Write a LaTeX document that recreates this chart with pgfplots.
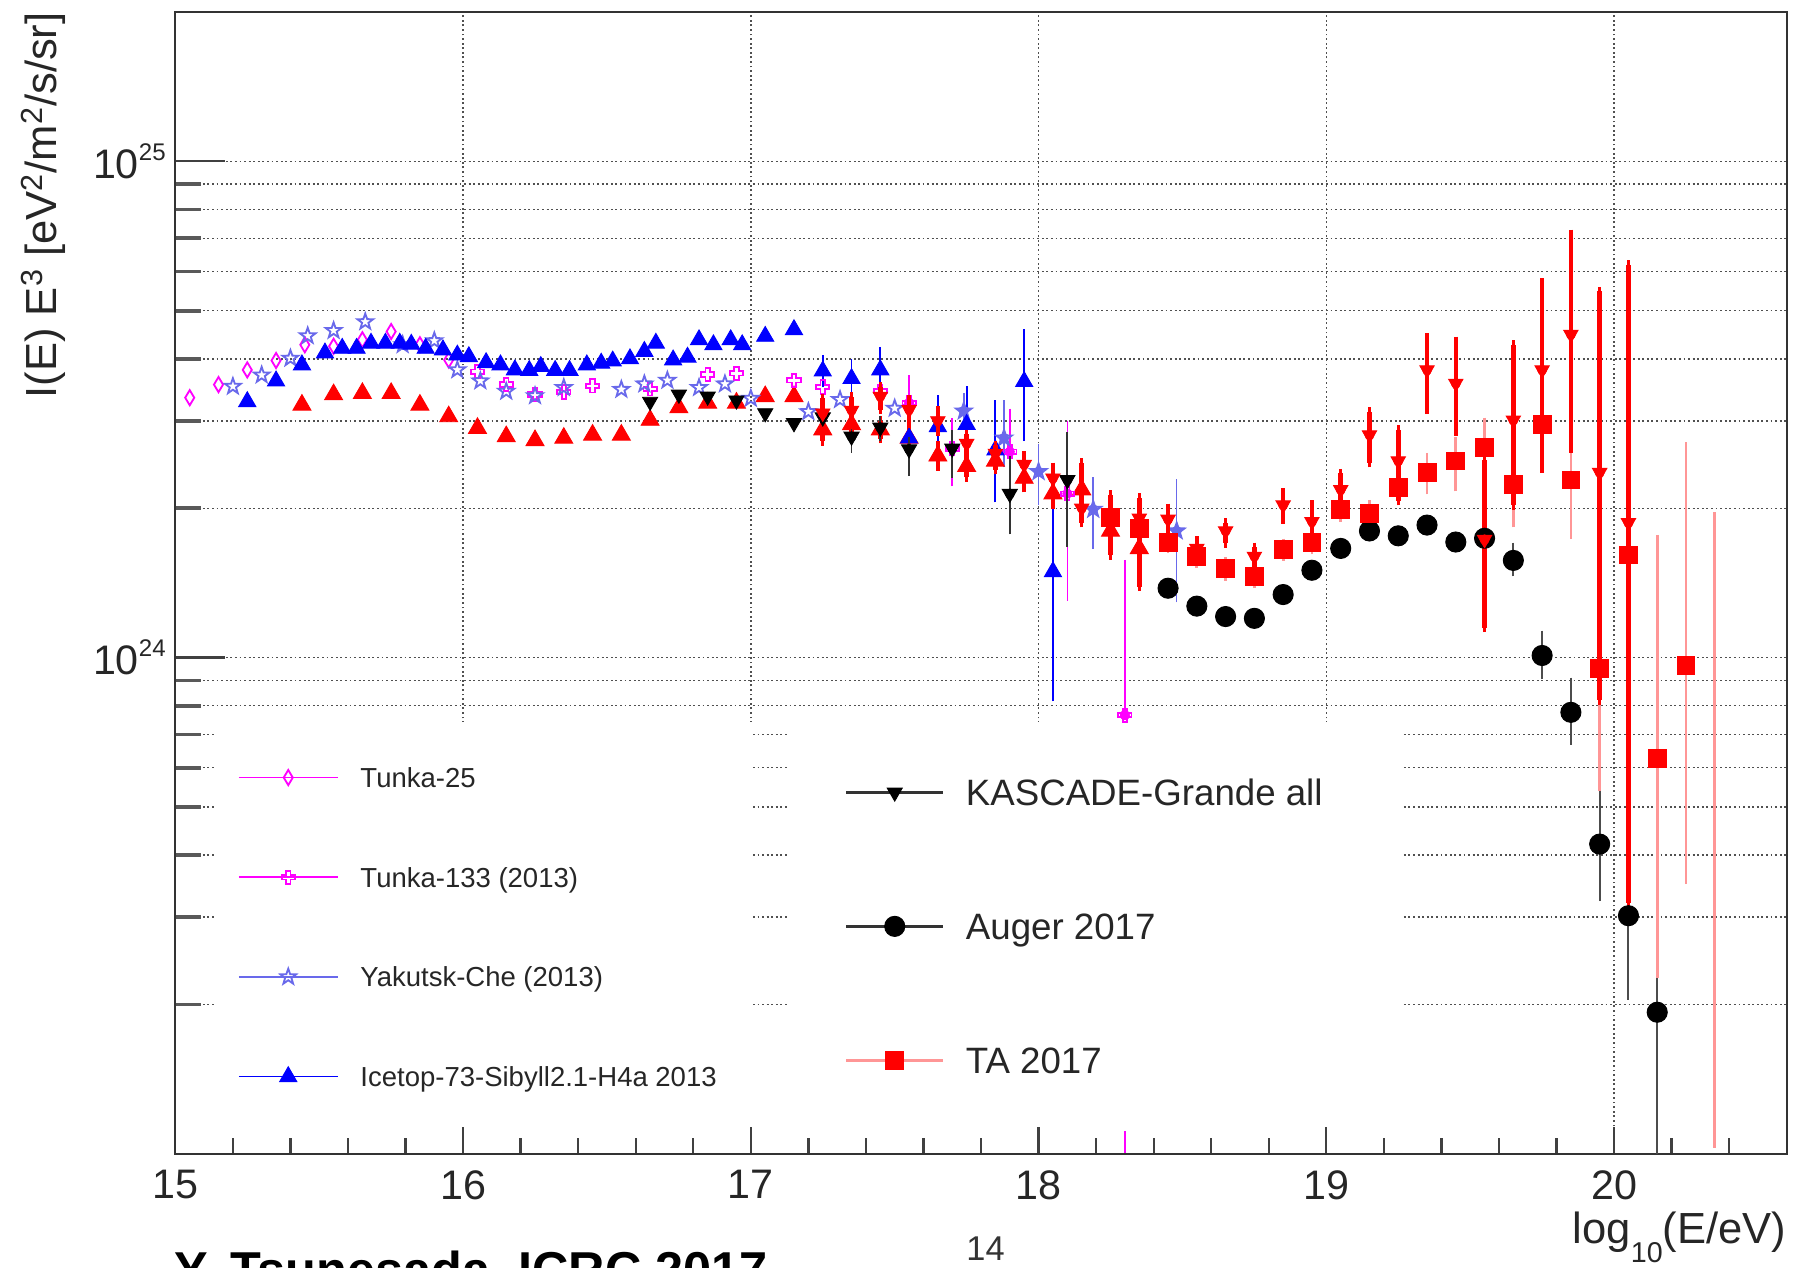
\documentclass[border=0pt]{standalone}
\usepackage{fontspec}
\setmainfont{Liberation Sans}
\usepackage{pgfplots}
\pgfplotsset{compat=1.18}
\usetikzlibrary{plotmarks}

\definecolor{tunka}{RGB}{255,0,255}
\definecolor{yak}{RGB}{105,105,235}
\definecolor{icetop}{RGB}{0,0,255}
\definecolor{tared}{RGB}{255,0,0}
\definecolor{taerr}{RGB}{255,150,150}
\definecolor{gridc}{RGB}{80,80,80}

% tall open diamond
\pgfdeclareplotmark{tdiamond}{%
  \pgfpathmoveto{\pgfqpoint{0pt}{1.5\pgfplotmarksize}}%
  \pgfpathlineto{\pgfqpoint{0.9\pgfplotmarksize}{0pt}}%
  \pgfpathlineto{\pgfqpoint{0pt}{-1.5\pgfplotmarksize}}%
  \pgfpathlineto{\pgfqpoint{-0.9\pgfplotmarksize}{0pt}}%
  \pgfpathclose\pgfusepathqstroke}
% open cross
\pgfdeclareplotmark{ocross}{%
  \pgfpathmoveto{\pgfqpoint{-0.33\pgfplotmarksize}{\pgfplotmarksize}}%
  \pgfpathlineto{\pgfqpoint{0.33\pgfplotmarksize}{\pgfplotmarksize}}%
  \pgfpathlineto{\pgfqpoint{0.33\pgfplotmarksize}{0.33\pgfplotmarksize}}%
  \pgfpathlineto{\pgfqpoint{\pgfplotmarksize}{0.33\pgfplotmarksize}}%
  \pgfpathlineto{\pgfqpoint{\pgfplotmarksize}{-0.33\pgfplotmarksize}}%
  \pgfpathlineto{\pgfqpoint{0.33\pgfplotmarksize}{-0.33\pgfplotmarksize}}%
  \pgfpathlineto{\pgfqpoint{0.33\pgfplotmarksize}{-\pgfplotmarksize}}%
  \pgfpathlineto{\pgfqpoint{-0.33\pgfplotmarksize}{-\pgfplotmarksize}}%
  \pgfpathlineto{\pgfqpoint{-0.33\pgfplotmarksize}{-0.33\pgfplotmarksize}}%
  \pgfpathlineto{\pgfqpoint{-\pgfplotmarksize}{-0.33\pgfplotmarksize}}%
  \pgfpathlineto{\pgfqpoint{-\pgfplotmarksize}{0.33\pgfplotmarksize}}%
  \pgfpathlineto{\pgfqpoint{-0.33\pgfplotmarksize}{0.33\pgfplotmarksize}}%
  \pgfpathclose\pgfusepathqstroke}
% open five-pointed star
\pgfdeclareplotmark{ostar}{%
  \pgfpathmoveto{\pgfqpoint{0pt}{\pgfplotmarksize}}%
  \pgfpathlineto{\pgfqpoint{-0.235\pgfplotmarksize}{0.324\pgfplotmarksize}}%
  \pgfpathlineto{\pgfqpoint{-0.951\pgfplotmarksize}{0.309\pgfplotmarksize}}%
  \pgfpathlineto{\pgfqpoint{-0.380\pgfplotmarksize}{-0.124\pgfplotmarksize}}%
  \pgfpathlineto{\pgfqpoint{-0.588\pgfplotmarksize}{-0.809\pgfplotmarksize}}%
  \pgfpathlineto{\pgfqpoint{0pt}{-0.4\pgfplotmarksize}}%
  \pgfpathlineto{\pgfqpoint{0.588\pgfplotmarksize}{-0.809\pgfplotmarksize}}%
  \pgfpathlineto{\pgfqpoint{0.380\pgfplotmarksize}{-0.124\pgfplotmarksize}}%
  \pgfpathlineto{\pgfqpoint{0.951\pgfplotmarksize}{0.309\pgfplotmarksize}}%
  \pgfpathlineto{\pgfqpoint{0.235\pgfplotmarksize}{0.324\pgfplotmarksize}}%
  \pgfpathclose\pgfusepathqstroke}

% legend key: a line with the plot's marker in its middle
\pgfplotsset{
  legkey/.style n args={3}{legend image code/.code={%
    \draw[#1, line width=#2] (0pt,0pt) -- (#3,0pt);
    \draw[##1] plot coordinates {({0.5*#3},0pt)};}},
}

\begin{document}
\begin{tikzpicture}
% ---------- lower-energy experiments, grid and y axis ----------
\begin{axis}[
  at={(0pt,0pt)}, anchor=south west,
  scale only axis, width=703pt, height=498.2pt,
  xmin=15, xmax=20.6, ymode=log, ymin=1e23, ymax=2e25,
  axis line style={black!80, line width=1pt},
  tick pos=left, tick align=inside,
  xtick={16,17,18,19,20}, xticklabels={}, minor xtick={},
  every major x tick/.append style={draw=none},
  ytick={1e24,1e25},
  yticklabels={10\raisebox{8pt}{\fontsize{10.5}{11}\selectfont 24},10\raisebox{8pt}{\fontsize{10.5}{11}\selectfont 25}},
  minor ytick={2e23,3e23,4e23,5e23,6e23,7e23,8e23,9e23,2e24,3e24,4e24,5e24,6e24,7e24,8e24,9e24},
  major tick length=21.5pt, minor tick length=11pt,
  every major y tick/.append style={black!75, line width=1pt},
  every minor y tick/.append style={black!65, line width=1.6pt},
  yticklabel style={font=\fontsize{18}{20}\selectfont, inner sep=0pt, xshift=-4pt, text=black!85},
  xmajorgrids, ymajorgrids, yminorgrids,
  grid style={gridc, line width=0.65pt, dash pattern=on 0.8pt off 1.2pt},
  minor grid style={gridc, line width=0.65pt, dash pattern=on 0.8pt off 1.2pt},
  ylabel={I(E) E\textsuperscript{3} [eV\textsuperscript{2}/m\textsuperscript{2}/s/sr]},
  ylabel style={at={(axis description cs:-0.0738,1)}, anchor=base east, inner sep=0pt,
    font=\fontsize{19}{21}\selectfont, text=black!85},
  legend cell align=left,
  legend style={at={(0.0385,0.3386)}, anchor=north west, draw=none, fill=none,
    inner sep=0pt, row sep=34.9pt, column sep=9.5pt,
    font=\fontsize{12}{14}\selectfont, text=black!85,
    nodes={inner sep=0pt, text height=8.59pt, text depth=0pt}},
]
% Tunka-133 uncertainties
\addplot[only marks, mark=none, forget plot, tunka,
  error bars/.cd, y dir=both, y explicit, error mark=-,
  error bar style={tunka, line width=0.7pt},
  error mark options={tunka, line width=0.7pt, mark size=2pt}]
  table[x=x,y=y,y error plus=ep,y error minus=em] {
x y ep em
17.55 3.26e24 0.37e24 0.30e24
17.70 2.64e24 0.33e24 0.38e24
17.90 2.60e24 0.51e24 0.40e24
18.10 2.14e24 0.80e24 0.81e24
18.30 7.66e23 7.74e23 0
};
% Yakutsk uncertainties
\addplot[only marks, mark=none, forget plot, yak,
  error bars/.cd, y dir=both, y explicit, error mark=-,
  error bar style={yak, line width=0.7pt},
  error mark options={yak, line width=0.7pt, mark size=2pt}]
  table[x=x,y=y,y error plus=ep,y error minus=em] {
x y ep em
17.74 3.14e24 0.20e24 0.20e24
17.88 2.77e24 0.46e24 0.30e24
18.00 2.37e24 0.27e24 0.30e24
18.19 1.99e24 0.27e24 0.30e24
18.48 1.80e24 0.44e24 0.48e24
};
% IceTop uncertainties
\addplot[only marks, mark=none, forget plot, icetop,
  error bars/.cd, y dir=both, y explicit, error mark=-,
  error bar style={icetop, line width=0.8pt},
  error mark options={icetop, line width=0.8pt, mark size=2pt}]
  table[x=x,y=y,y error plus=ep,y error minus=em] {
x y ep em
17.25 3.78e24 0.20e24 0.20e24
17.35 3.65e24 0.27e24 0.25e24
17.45 3.80e24 0.34e24 0.30e24
17.55 2.77e24 0.25e24 0.25e24
17.65 2.92e24 0.39e24 0.30e24
17.75 2.95e24 0.50e24 0.35e24
17.85 2.62e24 0.61e24 0.52e24
17.95 3.60e24 0.89e24 0.81e24
18.05 1.49e24 0.54e24 0.656e24
};
% red upward triangles: uncertainties
\addplot[only marks, mark=none, forget plot, tared,
  error bars/.cd, y dir=both, y explicit, error mark=-,
  error bar style={tared, line width=2pt},
  error mark options={tared, line width=1.5pt, mark size=2pt}]
  table[x=x,y=y,y error plus=ep,y error minus=em] {
x y ep em
17.25 2.88e24 0.15e24 0.15e24
17.35 2.95e24 0.15e24 0.15e24
17.45 2.88e24 0.12e24 0.12e24
17.55 2.77e24 0.12e24 0.12e24
17.65 2.55e24 0.12e24 0.12e24
17.75 2.43e24 0.12e24 0.12e24
17.85 2.49e24 0.10e24 0.10e24
17.95 2.30e24 0.10e24 0.10e24
18.05 2.14e24 0.10e24 0.10e24
18.15 2.18e24 0.12e24 0.12e24
18.25 1.80e24 0.15e24 0.15e24
18.35 1.66e24 0.12e24 0.27e24
};
% red upward triangles
\addplot[only marks, forget plot, mark=triangle*, mark size=4.5pt, tared] table[x=x,y=y] {
x y
15.44 3.23e24
15.55 3.39e24
15.65 3.41e24
15.75 3.41e24
15.85 3.23e24
15.95 3.06e24
16.05 2.90e24
16.15 2.79e24
16.25 2.74e24
16.35 2.77e24
16.45 2.81e24
16.55 2.81e24
16.65 3.01e24
16.75 3.19e24
16.85 3.26e24
16.95 3.26e24
17.05 3.36e24
17.15 3.36e24
17.25 2.88e24
17.35 2.95e24
17.45 2.88e24
17.55 2.77e24
17.65 2.55e24
17.75 2.43e24
17.85 2.49e24
17.95 2.30e24
18.05 2.14e24
18.15 2.18e24
18.25 1.80e24
18.35 1.66e24
};
% Tunka-25
\addplot[only marks, mark=tdiamond, mark size=2.2pt, tunka, line width=0.8pt,
  legkey={tunka}{0.6pt}{43pt}] table[x=x,y=y] {
x y
15.05 3.34e24
15.15 3.55e24
15.25 3.80e24
15.35 3.97e24
15.45 4.27e24
15.55 4.24e24
15.65 4.37e24
15.75 4.54e24
15.85 4.27e24
15.95 3.98e24
};
\addlegendentry{Tunka-25}
% Tunka-133
\addplot[only marks, mark=ocross, mark size=2.9pt, tunka, line width=0.8pt,
  legkey={tunka}{1pt}{43pt}] table[x=x,y=y] {
x y
16.05 3.77e24
16.15 3.55e24
16.25 3.39e24
16.35 3.43e24
16.45 3.53e24
16.65 3.48e24
16.85 3.72e24
16.95 3.74e24
17.15 3.62e24
17.25 3.51e24
17.45 3.44e24
17.55 3.26e24
17.70 2.64e24
17.90 2.60e24
18.10 2.14e24
18.30 7.66e23
};
\addlegendentry{Tunka-133 (2013)}
% Yakutsk
\addplot[only marks, mark=ostar, mark size=3.6pt, yak, line width=0.8pt,
  legkey={yak}{0.6pt}{43pt}] table[x=x,y=y] {
x y
15.20 3.52e24
15.30 3.71e24
15.40 4.01e24
15.46 4.45e24
15.55 4.56e24
15.66 4.75e24
15.79 4.27e24
15.90 4.35e24
15.98 3.80e24
16.06 3.61e24
16.15 3.44e24
16.25 3.37e24
16.35 3.50e24
16.55 3.47e24
16.63 3.56e24
16.71 3.62e24
16.82 3.50e24
16.91 3.56e24
17.00 3.33e24
17.20 3.13e24
17.31 3.31e24
17.50 3.18e24
17.74 3.14e24
17.88 2.77e24
18.00 2.37e24
18.19 1.99e24
18.48 1.80e24
};
\addlegendentry{Yakutsk-Che (2013)}
% IceTop
\addplot[only marks, mark=triangle*, mark size=4.3pt, icetop,
  legkey={icetop}{0.6pt}{43pt}] table[x=x,y=y] {
x y
15.25 3.28e24
15.35 3.61e24
15.44 3.89e24
15.52 4.11e24
15.58 4.20e24
15.63 4.20e24
15.68 4.30e24
15.73 4.30e24
15.78 4.30e24
15.82 4.28e24
15.87 4.20e24
15.93 4.17e24
15.98 4.07e24
16.02 4.04e24
16.08 3.93e24
16.13 3.89e24
16.18 3.80e24
16.23 3.79e24
16.27 3.86e24
16.32 3.79e24
16.37 3.79e24
16.43 3.89e24
16.48 3.92e24
16.52 3.96e24
16.58 4.00e24
16.63 4.14e24
16.67 4.30e24
16.73 3.98e24
16.78 4.03e24
16.82 4.37e24
16.87 4.27e24
16.93 4.37e24
16.97 4.27e24
17.05 4.44e24
17.15 4.58e24
17.25 3.78e24
17.35 3.65e24
17.45 3.80e24
17.55 2.77e24
17.65 2.92e24
17.75 2.95e24
17.85 2.62e24
17.95 3.60e24
18.05 1.49e24
};
\addlegendentry{Icetop-73-Sibyll2.1-H4a 2013}
% lower end of a Tunka-133 uncertainty at the frame
\addplot[tunka, line width=0.7pt, forget plot] coordinates {(18.3,1e23) (18.3,1.11e23)};
% blank areas behind the two legends
\fill[white] (axis description cs:0.0242,0.378) rectangle (axis description cs:0.3585,0.022);
\fill[white] (axis description cs:0.3799,0.378) rectangle (axis description cs:0.7612,0.022);
\end{axis}

% ---------- higher-energy experiments and x axis ----------
\begin{axis}[
  at={(0pt,0pt)}, anchor=south west,
  scale only axis, width=703pt, height=498.2pt,
  xmin=15, xmax=20.6, ymode=log, ymin=1e23, ymax=2e25,
  axis line style={black!80, line width=1pt},
  tick pos=left, tick align=inside,
  ytick=\empty, minor ytick={},
  xtick={15,16,17,18,19,20}, xticklabels={15,16,17,18,19,20},
  minor xtick={15.2,15.4,15.6,15.8,16.2,16.4,16.6,16.8,17.2,17.4,17.6,17.8,18.2,18.4,18.6,18.8,19.2,19.4,19.6,19.8,20.2,20.4},
  major tick length=12pt, minor tick length=7pt,
  every major x tick/.append style={black!75, line width=1pt},
  every minor x tick/.append style={black!75, line width=1pt},
  xticklabel style={font=\fontsize{18}{20}\selectfont, inner sep=0pt, yshift=-7pt, text=black!85},
  xlabel={log\raisebox{-0.45em}{\fontsize{12.5}{13}\selectfont 10}(E/eV)},
  xlabel style={at={(axis description cs:1,-0.0502)}, anchor=north east, inner sep=0pt,
    font=\fontsize{19}{21}\selectfont, text=black!85},
  legend cell align=left,
  legend style={at={(0.4148,0.3285)}, anchor=north west, draw=none, fill=none,
    inner sep=0pt, row sep=47pt, column sep=9pt,
    font=\fontsize{16}{18}\selectfont, text=black!85,
    nodes={inner sep=0pt, text height=11.46pt, text depth=0pt}},
]
% KASCADE-Grande uncertainties
\addplot[only marks, mark=none, forget plot, black,
  error bars/.cd, y dir=both, y explicit, error mark=-,
  error bar style={black!80, line width=0.8pt},
  error mark options={black!80, line width=0.8pt, mark size=2pt}]
  table[x=x,y=y,y error plus=ep,y error minus=em] {
x y ep em
17.35 2.79e24 0.10e24 0.15e24
17.45 2.91e24 0.10e24 0.12e24
17.55 2.63e24 0.10e24 0.26e24
17.70 2.64e24 0.17e24 0.29e24
17.90 2.14e24 0.35e24 0.33e24
18.10 2.28e24 0.51e24 0.57e24
};
\addplot[only marks, mark=triangle*, mark size=3.8pt, mark options={rotate=180}, black,
  legkey={black!80}{1.2pt}{42.5pt}] table[x=x,y=y] {
x y
16.65 3.28e24
16.75 3.39e24
16.85 3.36e24
16.95 3.30e24
17.05 3.11e24
17.15 2.97e24
17.25 3.05e24
17.35 2.79e24
17.45 2.91e24
17.55 2.63e24
17.70 2.64e24
17.90 2.14e24
18.10 2.28e24
};
\addlegendentry{KASCADE-Grande all}
% Auger uncertainties
\addplot[only marks, mark=none, forget plot, black,
  error bars/.cd, y dir=both, y explicit, error mark=-,
  error bar style={black!70, line width=0.9pt},
  error mark options={black!70, line width=0.9pt, mark size=2pt}]
  table[x=x,y=y,y error plus=ep,y error minus=em] {
x y ep em
19.65 1.57e24 0.10e24 0.08e24
19.75 1.01e24 0.10e24 0.087e24
19.85 7.76e23 1.16e23 0.94e23
19.95 4.21e23 1.06e23 0.91e23
20.05 3.02e23 0.80e23 0.93e23
20.15 1.93e23 0.38e23 0.92e23
};
\addplot[only marks, mark=*, mark size=4.4pt, black,
  legkey={black!80}{1.2pt}{42.5pt}] table[x=x,y=y] {
x y
18.45 1.38e24
18.55 1.27e24
18.65 1.21e24
18.75 1.20e24
18.85 1.34e24
18.95 1.50e24
19.05 1.66e24
19.15 1.80e24
19.25 1.76e24
19.35 1.85e24
19.45 1.71e24
19.55 1.74e24
19.65 1.57e24
19.75 1.01e24
19.85 7.76e23
19.95 4.21e23
20.05 3.02e23
20.15 1.93e23
};
\addlegendentry{Auger 2017}
% TA uncertainties
\addplot[only marks, mark=none, forget plot, taerr,
  error bars/.cd, y dir=both, y explicit, error mark=-,
  error bar style={taerr, line width=1.2pt},
  error mark options={taerr, line width=1.2pt, mark size=2pt}]
  table[x=x,y=y,y error plus=ep,y error minus=em] {
x y ep em
18.25 1.92e24 0.05e24 0.05e24
18.35 1.82e24 0.05e24 0.05e24
18.45 1.71e24 0.05e24 0.05e24
18.55 1.60e24 0.05e24 0.05e24
18.65 1.51e24 0.05e24 0.05e24
18.75 1.46e24 0.05e24 0.05e24
18.85 1.65e24 0.05e24 0.05e24
18.95 1.71e24 0.06e24 0.06e24
19.05 1.99e24 0.07e24 0.07e24
19.15 1.95e24 0.08e24 0.08e24
19.25 2.20e24 0.12e24 0.12e24
19.35 2.36e24 0.17e24 0.18e24
19.45 2.49e24 0.23e24 0.28e24
19.55 2.65e24 0.33e24 0.35e24
19.65 2.23e24 0.40e24 0.36e24
19.75 2.95e24 0.55e24 0.50e24
19.85 2.28e24 0.62e24 0.51e24
19.95 9.50e23 5.50e23 4.00e23
20.05 1.61e24 1.12e24 1.177e24
20.15 6.27e23 11.03e23 3.96e23
20.25 9.64e23 16.96e23 6.07e23
};
\addplot[only marks, mark=square*, mark size=3.9pt, tared,
  legkey={taerr}{1.6pt}{42.5pt}] table[x=x,y=y] {
x y
18.25 1.92e24
18.35 1.82e24
18.45 1.71e24
18.55 1.60e24
18.65 1.51e24
18.75 1.46e24
18.85 1.65e24
18.95 1.71e24
19.05 1.99e24
19.15 1.95e24
19.25 2.20e24
19.35 2.36e24
19.45 2.49e24
19.55 2.65e24
19.65 2.23e24
19.75 2.95e24
19.85 2.28e24
19.95 9.50e23
20.05 1.61e24
20.15 6.27e23
20.25 9.64e23
};
\addlegendentry{TA 2017}
% red downward triangles: uncertainties
\addplot[only marks, mark=none, forget plot, tared,
  error bars/.cd, y dir=both, y explicit, error mark=-,
  error bar style={tared, line width=2pt},
  error mark options={tared, line width=1.5pt, mark size=2pt}]
  table[x=x,y=y,y error plus=ep,y error minus=em] {
x y ep em
17.25 3.11e24 0.22e24 0.25e24
17.35 3.15e24 0.20e24 0.20e24
17.45 3.36e24 0.15e24 0.20e24
17.55 3.16e24 0.15e24 0.20e24
17.65 3.00e24 0.15e24 0.15e24
17.75 2.70e24 0.12e24 0.15e24
17.85 2.58e24 0.10e24 0.12e24
17.95 2.45e24 0.10e24 0.12e24
18.05 2.30e24 0.12e24 0.12e24
18.15 2.00e24 0.47e24 0.13e24
18.25 1.95e24 0.18e24 0.34e24
18.35 1.91e24 0.19e24 0.16e24
18.45 1.90e24 0.10e24 0.10e24
18.55 1.66e24 0.06e24 0.06e24
18.65 1.80e24 0.07e24 0.10e24
18.75 1.60e24 0.07e24 0.08e24
18.85 2.03e24 0.12e24 0.13e24
18.95 1.88e24 0.15e24 0.13e24
19.05 2.18e24 0.17e24 0.18e24
19.15 2.81e24 0.32e24 0.34e24
19.25 2.49e24 0.39e24 0.42e24
19.35 3.80e24 0.61e24 0.64e24
19.45 3.57e24 0.77e24 0.71e24
19.55 1.73e24 0.77e24 0.58e24
19.65 3.01e24 1.26e24 0.98e24
19.75 3.80e24 1.89e24 1.39e24
19.85 4.48e24 2.65e24 1.84e24
19.95 2.36e24 3.11e24 1.54e24
20.05 1.87e24 4.32e24 1.55e24
};
% red downward triangles
\addplot[only marks, forget plot, mark=triangle*, mark size=3.6pt, mark options={rotate=180}, tared] table[x=x,y=y] {
x y
17.25 3.11e24
17.35 3.15e24
17.45 3.36e24
17.55 3.16e24
17.65 3.00e24
17.75 2.70e24
17.85 2.58e24
17.95 2.45e24
18.05 2.30e24
18.15 2.00e24
18.25 1.95e24
18.35 1.91e24
18.45 1.90e24
18.55 1.66e24
18.65 1.80e24
18.75 1.60e24
18.85 2.03e24
18.95 1.88e24
19.05 2.18e24
19.15 2.81e24
19.25 2.49e24
19.35 3.80e24
19.45 3.57e24
19.55 1.73e24
19.65 3.01e24
19.75 3.80e24
19.85 4.48e24
19.95 2.36e24
20.05 1.87e24
};
% uncertainty band without a central value
\addplot[taerr, line width=1.2pt, forget plot] coordinates {(20.35,1.03e23) (20.35,1.97e24)};
\end{axis}

\node[anchor=base west, inner sep=0pt, font=\fontsize{22}{24}\selectfont\bfseries] at (-0.5pt,-58.3pt) {Y. Tsunesada, ICRC 2017};
\node[anchor=base, inner sep=0pt, font=\fontsize{15}{17}\selectfont, text=black!80] at (353.5pt,-46.5pt) {14};

\pgfresetboundingbox
\useasboundingbox (-76.5pt,-49.5pt) rectangle (707.5pt,503.5pt);
\end{tikzpicture}
\end{document}
